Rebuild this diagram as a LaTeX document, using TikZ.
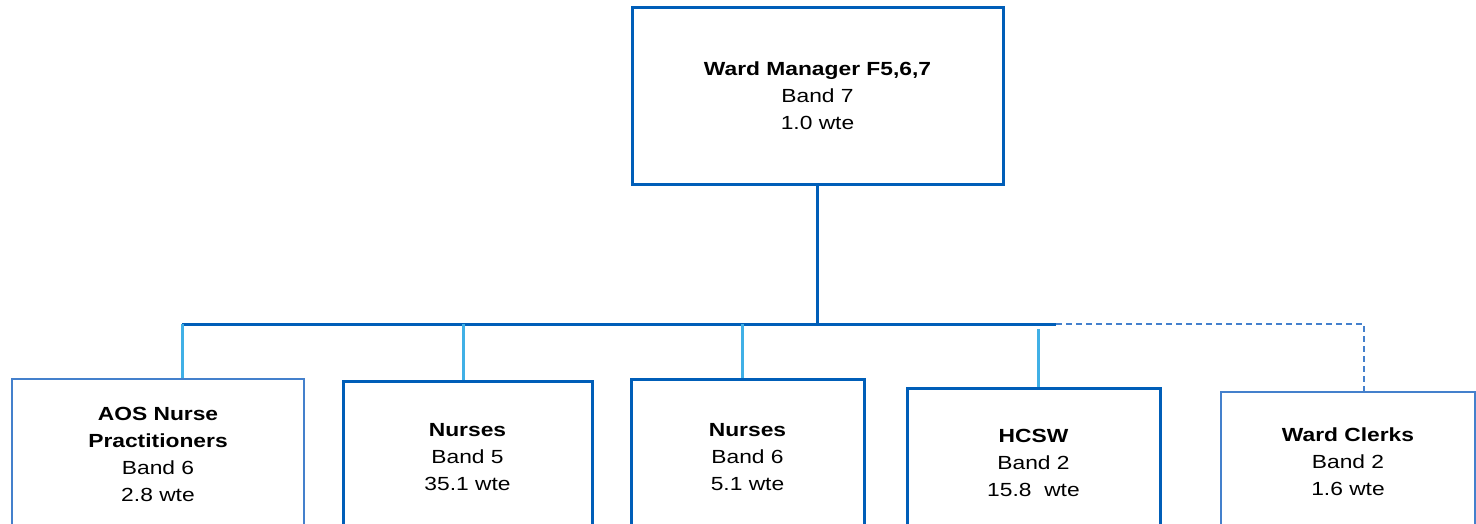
\documentclass[tikz,border=0pt]{standalone}
\usepackage{fontspec}
\setmainfont{Liberation Sans}[FakeStretch=1.2]
\usetikzlibrary{positioning}
\definecolor{mgrblue}{RGB}{0,94,184}
\definecolor{thinblue}{RGB}{68,128,204}
\definecolor{linkblue}{RGB}{64,176,230}

\begin{document}
\begin{tikzpicture}[x=1pt, y=-1pt,
  post/.style={draw=mgrblue, line width=3pt, align=center, inner sep=0pt,
    font=\fontsize{19}{27}\selectfont},
  thinpost/.style={post, draw=thinblue, line width=2.2pt},
  link/.style={draw=linkblue, line width=3pt},
  bar/.style={draw=mgrblue, line width=3pt},
  dashbar/.style={draw=thinblue, line width=2.2pt, dash pattern=on 6pt off 4pt}]
  \useasboundingbox (0,0) rectangle (1476,523);
  \clip (0,0) rectangle (1476,523);

  % manager
  \node[post, minimum width=371pt, minimum height=177pt] (mgr) at (817.5,95.5)
    {\textbf{Ward Manager F5,6,7}\\Band 7\\1.0 wte};

  % staff
  \node[thinpost, minimum width=292pt, minimum height=151pt] (aos) at (158,454.5)
    {\textbf{AOS Nurse}\\\textbf{Practitioners}\\Band 6\\2.8 wte};
  \node[post, minimum width=249pt, minimum height=152pt] (nbfive) at (467.5,457)
    {\textbf{Nurses}\\Band 5\\35.1 wte};
  \node[post, minimum width=233pt, minimum height=156pt] (nbsix) at (747.5,457)
    {\textbf{Nurses}\\Band 6\\5.1 wte};
  \node[post, minimum width=253pt, minimum height=150pt] (hcsw) at (1033.5,463)
    {\textbf{HCSW}\\Band 2\\15.8\ \ wte};
  \node[thinpost, minimum width=254pt, minimum height=140pt] (clerks) at (1348,462)
    {\textbf{Ward Clerks}\\Band 2\\1.6 wte};

  % junctions on the bar
  \coordinate (j1) at (182,324);
  \coordinate (j2) at (463,324);
  \coordinate (j3) at (742,324);
  \coordinate (j4) at (1038,324);
  \coordinate (barend) at (1056,324);
  \coordinate (j5) at (1364,325);

  \draw[bar] (mgr.south) -- (mgr.south |- j1);
  \draw[bar] (j1) -- (barend);
  \draw[dashbar] (barend) -| (j5 |- clerks.north);
  \draw[link] (j1) -- (j1 |- aos.north);
  \draw[link] (j2) -- (j2 |- nbfive.north);
  \draw[link] (j3) -- (j3 |- nbsix.north);
  \draw[link] ([yshift=-5pt]j4) -- (j4 |- hcsw.north);
\end{tikzpicture}
\end{document}
